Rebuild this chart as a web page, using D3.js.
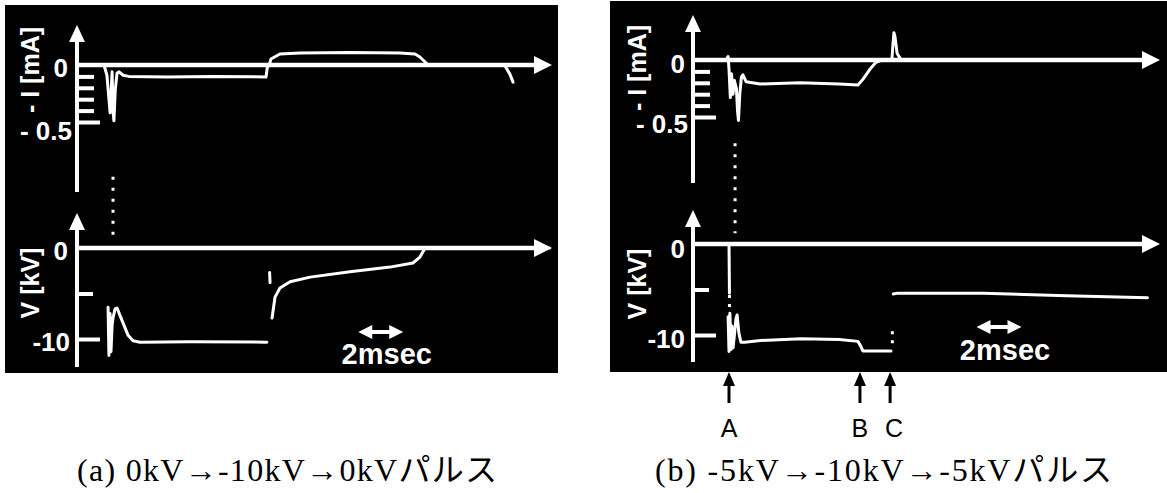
<!DOCTYPE html>
<html>
<head>
<meta charset="utf-8">
<script src="https://d3js.org/d3.v7.min.js"></script>
<style>
  body { margin: 0; background: #fff; }
  svg { display: block; }
  .lbl { font-family: "Liberation Sans", Arial, sans-serif; font-weight: bold; fill: #fff; }
  .cap { font-family: "Liberation Serif", "Times New Roman", "Noto Sans CJK JP", serif; fill: #000; }
</style>
</head>
<body>
<script>
// time in msec, current in mA, voltage in kV

// (a) 0kV -> -10kV -> 0kV
var iTraceA = [
  [[0,0],[1.20,0],[1.33,-0.09],[1.42,-0.30],[1.47,-0.42],[1.51,-0.28],[1.56,-0.06],[1.60,-0.40],[1.64,-0.49],
   [1.70,-0.22],[1.78,-0.07],[1.87,-0.06],[2.05,-0.09],[2.3,-0.10],[4,-0.105],[6,-0.10],[8.40,-0.105],
   [8.46,-0.02],[8.55,0],[8.62,0.053],[9.02,0.096],[9.91,0.105],[12.13,0.11],[14.36,0.105],[15.02,0.096],
   [15.24,0.07],[15.47,0.026],[15.6,0],[19.0,0],[19.24,-0.08],[19.38,-0.15]]
];
var iDotsA = [[1.60,-0.98],[1.60,-1.50]];
var vTraceA = [
  [[0,0],[1.30,0]],
  [[1.38,-6.5],[1.42,-11.8],[1.47,-7.2],[1.51,-11.4],[1.56,-8.5],[1.60,-7.7],[1.69,-6.7],[1.78,-6.6],
   [1.91,-7.4],[2.09,-8.5],[2.27,-9.6],[2.49,-10.2],[2.8,-10.35],[5,-10.3],[8.44,-10.35]],
  [[8.56,-2.7],[8.58,-3.8]],
  [[8.67,-7.7],[8.8,-5.4],[9.02,-4.4],[9.47,-3.7],[10.36,-3.2],[12.13,-2.6],[13.91,-2.1],[14.93,-1.65],
   [15.24,-1.0],[15.47,0],[21.0,0]]
];
var vDotsA = [];

// (b) -5kV -> -10kV -> -5kV
var iTraceB = [
  [[0,0],[1.47,0],[1.56,0.03],[1.60,-0.08],[1.66,-0.33],[1.71,-0.12],[1.78,-0.30],[1.84,-0.18],[1.93,-0.25],
   [1.98,-0.45],[2.02,-0.53],[2.08,-0.30],[2.15,-0.15],[2.22,-0.13],[2.36,-0.19],[2.98,-0.21],[4.76,-0.20],
   [6.5,-0.21],[7.33,-0.22],[7.55,-0.17],[7.87,-0.08],[8.13,-0.02],[8.4,0],[8.84,0],[8.88,0.12],[8.93,0.24],
   [8.98,0.20],[9.07,0.06],[9.25,0],[20.5,0]]
];
var iDotsB = [[1.87,-0.73],[1.87,-1.52]];
var vTraceB = [
  [[0,0],[1.60,0],[1.62,-5.4]],
  [[1.56,-8.0],[1.60,-11.8],[1.64,-7.6],[1.69,-11.6],[1.73,-9.0],[1.78,-11.4],[1.84,-10.0],[1.91,-8.2],
   [1.96,-7.8],[2.04,-9.8],[2.13,-10.8],[2.3,-10.8],[3.0,-10.6],[4.8,-10.4],[6.5,-10.5],[7.33,-10.7],
   [7.45,-11.2],[7.55,-11.75],[8.8,-11.75]],
  [[8.9,-5.5],[9.1,-5.4],[12.9,-5.4],[16.6,-5.7],[20.2,-5.9]]
];
var vDotsB = [[1.62,-5.6],[1.62,-7.5]];
var vDotsB2 = [[8.86,-9.6],[8.86,-10.9]];

var iTicks = [-0.1, -0.2, -0.3, -0.4, -0.5];
var vTicks = [-5, -10];
var iLabels = [[0, "0"], [-0.5, "- 0.5"]];
var vLabels = [[0, "0"], [-10, "-10"]];
var scaleBarMs = 2;
var markerNames = ["A", "B", "C"];
var markerTimes = [1.6, 7.42, 8.76];
var captions = ["(a) 0kV\u2192-10kV\u21920kVパルス", "(b) -5kV\u2192-10kV\u2192-5kVパルス"];

var W = 1167, H = 493;
var svg = d3.select("body").append("svg").attr("width", W).attr("height", H);
svg.append("rect").attr("width", W).attr("height", H).attr("fill", "#fff");

var panels = [
  { box: [5, 5, 553, 368], x0: 77, xEnd: 552, i0: 65, v0: 248, iTop: 25, iBot: 192, vTop: 213, vBot: 367,
    iTr: iTraceA, iDots: [iDotsA], vTr: vTraceA, vDots: [vDotsA],
    iLab: [[68, 3], [72, 9]], vLab: [[68, 3], [70, 3]], yLabX: 30, iNameY: 70, vNameY: 283,
    barT: 12.5, barY: 332, txtY: 364, cap: captions[0], capX: 77, capLen: 420 },
  { box: [610, 1, 557, 371], x0: 693, xEnd: 1160, i0: 60, v0: 244, iTop: 15, iBot: 183, vTop: 210, vBot: 362,
    iTr: iTraceB, iDots: [iDotsB], vTr: vTraceB, vDots: [vDotsB, vDotsB2],
    iLab: [[685, 4], [688, 7]], vLab: [[685, 5], [685, 4]], yLabX: 637, iNameY: 68, vNameY: 284,
    barT: 12.6, barY: 327, txtY: 360, cap: captions[1], capX: 655, capLen: 457 }
];

panels.forEach(function(p, k) {
  var g = svg.append("g");
  g.append("rect").attr("x", p.box[0]).attr("y", p.box[1]).attr("width", p.box[2]).attr("height", p.box[3]).attr("fill", "#000");

  var x = d3.scaleLinear().domain([0, scaleBarMs]).range([p.x0, p.x0 + 45]);
  var yi = d3.scaleLinear().domain([0, -0.5]).range([p.i0, p.i0 + 57]);
  var yv = d3.scaleLinear().domain([0, -10]).range([p.v0, p.v0 + 91]);

  // axes with arrow heads
  [[yi(0), p.iTop, p.iBot], [yv(0), p.vTop, p.vBot]].forEach(function(a) {
    g.append("line").attr("x1", p.x0).attr("x2", p.x0).attr("y1", a[2]).attr("y2", a[1] + 14)
      .attr("stroke", "#fff").attr("stroke-width", 4);
    g.append("polygon").attr("fill", "#fff")
      .attr("points", [[p.x0, a[1]], [p.x0 - 8, a[1] + 17], [p.x0 + 8, a[1] + 17]].join(" "));
    g.append("line").attr("x1", p.x0 - 2).attr("x2", p.xEnd - 14).attr("y1", a[0]).attr("y2", a[0])
      .attr("stroke", "#fff").attr("stroke-width", 4.5);
    g.append("polygon").attr("fill", "#fff")
      .attr("points", [[p.xEnd, a[0]], [p.xEnd - 18, a[0] - 9], [p.xEnd - 18, a[0] + 9]].join(" "));
  });

  // ticks
  var ia = g.append("g").attr("transform", "translate(" + p.x0 + ",0)")
    .call(d3.axisRight(yi).tickValues(iTicks).tickSize(17).tickFormat(""));
  var va = g.append("g").attr("transform", "translate(" + p.x0 + ",0)")
    .call(d3.axisRight(yv).tickValues(vTicks).tickSize(16).tickFormat(""));
  [ia, va].forEach(function(ax) {
    ax.select(".domain").remove();
    ax.selectAll(".tick line").attr("stroke", "#fff").attr("stroke-width", 4);
  });
  ia.selectAll(".tick line").filter(function(d) { return d === -0.5; }).attr("x2", 23);
  va.selectAll(".tick line").filter(function(d) { return d === -10; }).attr("x2", 23);

  // traces
  var li = d3.line().x(function(d) { return x(d[0]); }).y(function(d) { return yi(d[1]); });
  var lv = d3.line().x(function(d) { return x(d[0]); }).y(function(d) { return yv(d[1]); });
  p.iTr.forEach(function(s) {
    g.append("path").attr("d", li(s)).attr("fill", "none").attr("stroke", "#fff")
      .attr("stroke-width", 3).attr("stroke-linejoin", "round").attr("stroke-linecap", "round");
  });
  p.vTr.forEach(function(s) {
    g.append("path").attr("d", lv(s)).attr("fill", "none").attr("stroke", "#fff")
      .attr("stroke-width", 3).attr("stroke-linejoin", "round").attr("stroke-linecap", "round");
  });
  p.iDots.forEach(function(s) {
    if (s.length) g.append("path").attr("d", li(s)).attr("stroke", "#fff").attr("stroke-width", 3)
      .attr("stroke-dasharray", "3,8");
  });
  p.vDots.forEach(function(s) {
    if (s.length) g.append("path").attr("d", lv(s)).attr("stroke", "#fff").attr("stroke-width", 3)
      .attr("stroke-dasharray", "3,6");
  });

  // tick labels
  iLabels.forEach(function(l, j) {
    g.append("text").attr("class", "lbl").attr("x", p.iLab[j][0]).attr("y", yi(l[0]) + p.iLab[j][1])
      .attr("text-anchor", "end").attr("dominant-baseline", "central").attr("font-size", 26).text(l[1]);
  });
  vLabels.forEach(function(l, j) {
    g.append("text").attr("class", "lbl").attr("x", p.vLab[j][0]).attr("y", yv(l[0]) + p.vLab[j][1])
      .attr("text-anchor", "end").attr("dominant-baseline", "central").attr("font-size", 26).text(l[1]);
  });
  g.append("text").attr("class", "lbl").attr("font-size", 25).attr("text-anchor", "middle")
    .attr("dominant-baseline", "central")
    .attr("transform", "translate(" + p.yLabX + "," + p.iNameY + ") rotate(-90)").text("- I [mA]");
  g.append("text").attr("class", "lbl").attr("font-size", 25).attr("text-anchor", "middle")
    .attr("dominant-baseline", "central")
    .attr("transform", "translate(" + p.yLabX + "," + p.vNameY + ") rotate(-90)").text("V [kV]");

  // 2 msec scale bar
  var bx1 = x(p.barT), bx2 = x(p.barT + scaleBarMs), by = p.barY;
  g.append("polygon").attr("fill", "#fff")
    .attr("points", [[bx1, by], [bx1 + 14, by - 7], [bx1 + 14, by - 2], [bx2 - 14, by - 2], [bx2 - 14, by - 7],
      [bx2, by], [bx2 - 14, by + 7], [bx2 - 14, by + 2], [bx1 + 14, by + 2], [bx1 + 14, by + 7]].join(" "));
  g.append("text").attr("class", "lbl").attr("x", (bx1 + bx2) / 2 + 6).attr("y", p.txtY)
    .attr("text-anchor", "middle").attr("font-size", 29).text(scaleBarMs + "msec");

  // caption
  svg.append("text").attr("class", "cap").attr("x", p.capX).attr("y", 481).attr("font-size", 32)
    .attr("textLength", p.capLen).attr("lengthAdjust", "spacing").text(p.cap);

  // markers below panel (b)
  if (k === 1) {
    markerNames.forEach(function(n, j) {
      var mx = x(markerTimes[j]);
      g.append("polygon").attr("fill", "#000")
        .attr("points", [[mx, 372], [mx - 6, 386], [mx + 6, 386]].join(" "));
      g.append("line").attr("x1", mx).attr("x2", mx).attr("y1", 384).attr("y2", 403)
        .attr("stroke", "#000").attr("stroke-width", 3);
      g.append("text").attr("x", mx + (n === "C" ? 4 : 0)).attr("y", 437).attr("text-anchor", "middle")
        .attr("font-family", "Liberation Sans, Arial, sans-serif").attr("font-size", 25).text(n);
    });
  }
});
</script>
</body>
</html>
